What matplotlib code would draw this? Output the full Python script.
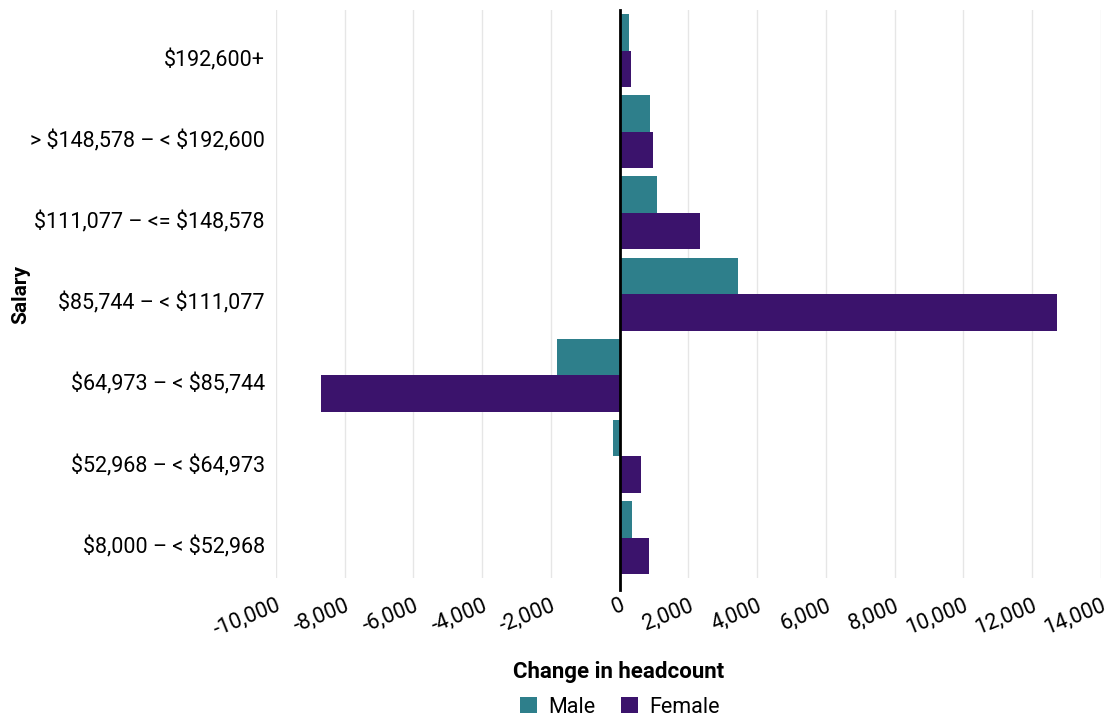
import matplotlib
matplotlib.use("Agg")
import matplotlib.pyplot as plt
import matplotlib.transforms as mtransforms
import numpy as np
from matplotlib.ticker import FuncFormatter

# Dane
categories = ["$8,000 – < $52,968", "$52,968 – < $64,973", "$64,973 – < $85,744",
              "$85,744 – < $111,077", "$111,077 – <= $148,578",
              "> $148,578 – < $192,600", "$192,600+"]
male = [350, -200, -1835, 3435, 1080, 875, 260]
female = [845, 610, -8705, 12720, 2330, 960, 320]
xticks = list(range(-10000, 14001, 2000))

teal = "#2e7f8b"
purple = "#3b136c"

plt.rcParams['font.family'] = ['Roboto', 'DejaVu Sans']
plt.rcParams['text.parse_math'] = False  # znaki $ jako zwykly tekst

fig = plt.figure(figsize=(11.13, 7.2), dpi=100)
ax = fig.add_axes([0.248, 0.197, 0.741, 0.789])

y = np.arange(len(categories))
h = 0.45
ax.barh(y + h / 2, male, height=h, color=teal, label="Male", zorder=2)
ax.barh(y - h / 2, female, height=h, color=purple, label="Female", zorder=2)

ax.set_xlim(-10000, 14000)
ax.set_ylim(-0.5, len(categories) - 0.5)
ax.set_xticks(xticks)
ax.xaxis.set_major_formatter(FuncFormatter(lambda v, p: f"{int(v):,}"))
ax.set_yticks(y)
ax.set_yticklabels(categories, fontsize=15.5)
ax.tick_params(axis='y', length=0, pad=8)
ax.tick_params(axis='x', length=0, pad=12, labelsize=15.5)
for lbl in ax.get_xticklabels():
    lbl.set_rotation(22)
    lbl.set_ha('right')
    lbl.set_va('top')
    lbl.set_rotation_mode('anchor')

# etykiety osi Y lekko w dol, jak w oryginale
shift = mtransforms.ScaledTranslation(0, -7 / 100, fig.dpi_scale_trans)
for lbl in ax.get_yticklabels():
    lbl.set_transform(lbl.get_transform() + shift)

ax.grid(axis='x', color='#e6e6e6', linewidth=1, zorder=0)
ax.axvline(0, color='black', linewidth=2, zorder=3, ymin=-0.02, clip_on=False)
for s in ax.spines.values():
    s.set_visible(False)

ax.set_ylabel("Salary", fontsize=15, fontweight='semibold')
ax.yaxis.set_label_coords(-0.298, 0.5)
ax.set_xlabel("Change in headcount", fontsize=16, fontweight='semibold')
ax.xaxis.set_label_coords(0.415, -0.145)

fig.legend(loc='center', bbox_to_anchor=(0.557, 0.018), ncol=2, frameon=False,
           fontsize=15.5, handlelength=0.8, handleheight=0.8, columnspacing=1.2,
           handletextpad=0.5)

fig.savefig("out.png", dpi=100)
